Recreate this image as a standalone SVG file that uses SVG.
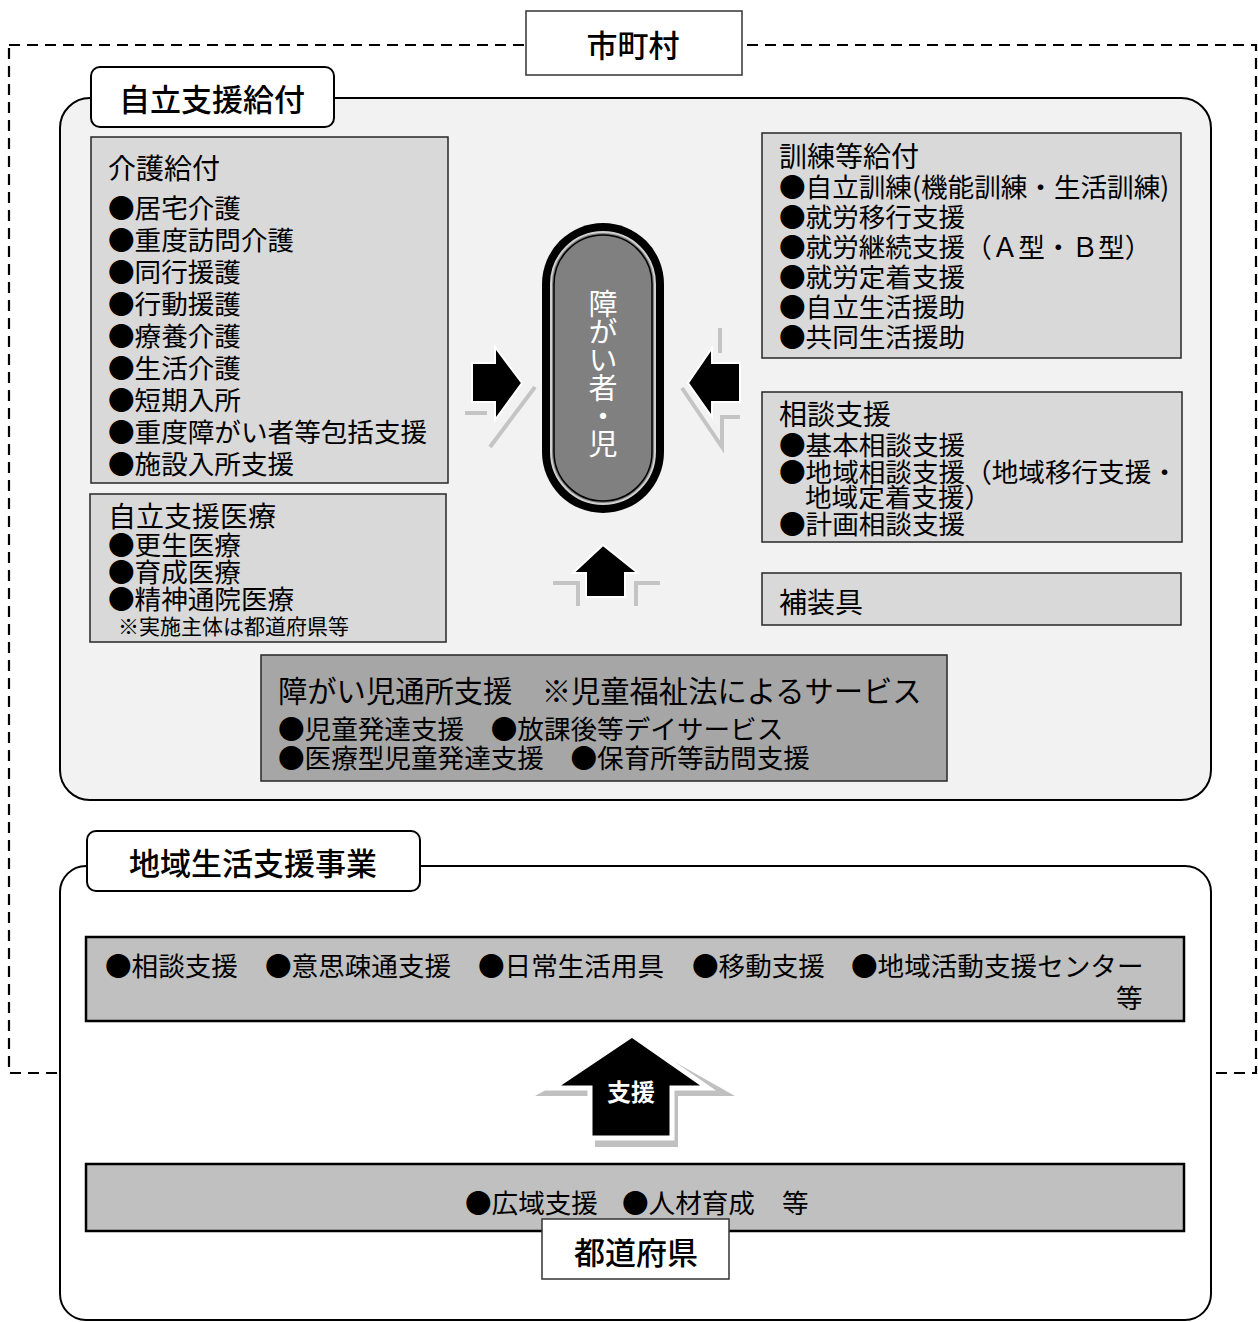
<svg xmlns="http://www.w3.org/2000/svg" width="1258" height="1322" viewBox="0 0 1258 1322">
<style>
text{font-family:"Noto Sans CJK JP","Noto Sans",sans-serif;fill:#000;dominant-baseline:central}
.t26{font-size:26.6px}
.t28{font-size:28px}
.t21{font-size:21px}
.tab{font-size:31px;font-weight:500}
.lbox{fill:#d9d9d9;stroke:#262626;stroke-width:1.5}
.gbox{fill:#c0c0c0;stroke:#000;stroke-width:2.5}
.wbox{fill:#fff;stroke:#333;stroke-width:1.5}
.shd{fill:none;stroke:#c4c4c4;stroke-width:4}
</style>
<rect width="1258" height="1322" fill="#fff"/>
<g id="municipality-frame">
<rect x="9" y="45" width="1247" height="1028" fill="none" stroke="#000" stroke-width="2.2" stroke-dasharray="11,7"/>
</g>
<g id="jiritsu-shien-kyufu">
<rect x="60" y="98" width="1151" height="702" rx="30" fill="#f2f2f2" stroke="#000" stroke-width="2"/>
<rect x="91" y="67" width="243" height="60" rx="9" fill="#fff" stroke="#000" stroke-width="2"/>
<text class="tab" x="212" y="97" text-anchor="middle">自立支援給付</text>
</g>
<g id="kaigo-kyufu">
<rect class="lbox" x="91" y="137" width="357" height="346"/>
<text class="t26"><tspan class="t28" x="108" y="167">介護給付</tspan><tspan x="108" y="206">●居宅介護</tspan><tspan x="108" y="238">●重度訪問介護</tspan><tspan x="108" y="270">●同行援護</tspan><tspan x="108" y="302">●行動援護</tspan><tspan x="108" y="334">●療養介護</tspan><tspan x="108" y="366">●生活介護</tspan><tspan x="108" y="398">●短期入所</tspan><tspan x="108" y="430">●重度障がい者等包括支援</tspan><tspan x="108" y="462">●施設入所支援</tspan></text>
</g>
<g id="jiritsu-shien-iryo">
<rect class="lbox" x="90" y="494" width="356" height="148"/>
<text class="t26"><tspan class="t28" x="108" y="515">自立支援医療</tspan><tspan x="108" y="543">●更生医療</tspan><tspan x="108" y="570">●育成医療</tspan><tspan x="108" y="597">●精神通院医療</tspan><tspan class="t21" x="118" y="625">※実施主体は都道府県等</tspan></text>
</g>
<g id="kunren-kyufu">
<rect class="lbox" x="762" y="133" width="419" height="225"/>
<text class="t26"><tspan class="t28" x="779" y="155">訓練等給付</tspan><tspan x="779" y="185">●自立訓練(機能訓練・生活訓練)</tspan><tspan x="779" y="215">●就労移行支援</tspan><tspan x="779" y="245">●就労継続支援（Ａ型・Ｂ型）</tspan><tspan x="779" y="275">●就労定着支援</tspan><tspan x="779" y="305">●自立生活援助</tspan><tspan x="779" y="335">●共同生活援助</tspan></text>
</g>
<g id="sodan-shien">
<rect class="lbox" x="762" y="392" width="420" height="150"/>
<text class="t26"><tspan class="t28" x="779" y="413">相談支援</tspan><tspan x="779" y="443">●基本相談支援</tspan><tspan x="779" y="470">●地域相談支援（地域移行支援・</tspan><tspan x="805" y="495">地域定着支援）</tspan><tspan x="779" y="522">●計画相談支援</tspan></text>
</g>
<g id="hosogu">
<rect class="lbox" x="762" y="573" width="419" height="52"/>
<text class="t28" x="779" y="601">補装具</text>
</g>
<g id="jido-tsusho">
<rect x="261" y="655" width="686" height="126" fill="#a6a6a6" stroke="#262626" stroke-width="1.5"/>
<text class="t26"><tspan x="278" y="689" style="font-size:29.3px">障がい児通所支援　※児童福祉法によるサービス</tspan><tspan x="278" y="727">●児童発達支援　●放課後等デイサービス</tspan><tspan x="278" y="756">●医療型児童発達支援　●保育所等訪問支援</tspan></text>
</g>
<g id="connectors">
<polyline class="shd" points="465,413 487,413"/>
<polyline class="shd" points="490,447 535,387"/>
<polygon points="472,363 495,363 495,347 522,383 495,420 495,402 472,402" fill="#000" stroke="#fff" stroke-width="2"/>
<polyline class="shd" points="720,328 720,353"/>
<polyline class="shd" points="682,388 722,447 722,417 740,417"/>
<polygon points="740,363 712,363 712,348 688,383 712,417 712,402 740,402" fill="#000" stroke="#fff" stroke-width="2"/>
<polyline class="shd" points="553,583 578,583 578,606"/>
<polyline class="shd" points="660,583 636,583 636,606"/>
<polygon points="603,545 638,573 625,573 625,597 586,597 586,573 573,573" fill="#000" stroke="#fff" stroke-width="2"/>
</g>
<g id="person">
<rect x="542" y="223" width="122" height="290" rx="61" fill="#000"/>
<rect x="551" y="232" width="104" height="272" rx="52" fill="#808080" stroke="#d0d0d0" stroke-width="2"/>
<rect x="554" y="235" width="98" height="266" rx="49" fill="none" stroke="#000" stroke-width="1.5"/>
<text x="603" y="289" writing-mode="vertical-rl" style="fill:#fff;font-size:29px;letter-spacing:-1px">障がい者・児</text>
</g>
<g id="chiiki-seikatsu-shien">
<rect x="60" y="866" width="1151" height="454" rx="26" fill="#fff" stroke="#000" stroke-width="2"/>
<rect x="87" y="831" width="333" height="60" rx="9" fill="#fff" stroke="#000" stroke-width="2"/>
<text class="tab" x="253" y="861" text-anchor="middle">地域生活支援事業</text>
</g>
<g id="municipal-services">
<rect class="gbox" x="86" y="937" width="1098" height="84"/>
<text class="t26"><tspan x="105" y="964">●相談支援</tspan><tspan x="265" y="964">●意思疎通支援</tspan><tspan x="478" y="964">●日常生活用具</tspan><tspan x="692" y="964">●移動支援</tspan><tspan x="851" y="964">●地域活動支援センター</tspan><tspan x="1116" y="996">等</tspan></text>
</g>
<g id="shien-arrow">
<polygon points="636,1040 735,1096 678,1096 678,1147 595,1147 595,1096 535,1096" fill="#c0c0c0"/>
<polygon points="632,1035 708,1088 672,1088 672,1138 590,1138 590,1088 553,1088" fill="#000" stroke="#fff" stroke-width="5" stroke-linejoin="miter"/>
<text x="631" y="1090" text-anchor="middle" style="fill:#fff;font-size:24px;font-weight:700">支援</text>
</g>
<g id="prefecture-services">
<rect class="gbox" x="86" y="1164" width="1098" height="67"/>
<text class="t26"><tspan x="465" y="1201">●広域支援</tspan><tspan x="622" y="1201">●人材育成</tspan><tspan x="782" y="1201">等</tspan></text>
</g>
<g id="prefecture">
<rect class="wbox" x="542" y="1219" width="187" height="60"/>
<text class="tab" x="636" y="1250" text-anchor="middle">都道府県</text>
</g>
<g id="municipality">
<rect class="wbox" x="526" y="11" width="216" height="64"/>
<text class="tab" x="633" y="43" text-anchor="middle">市町村</text>
</g>
</svg>
